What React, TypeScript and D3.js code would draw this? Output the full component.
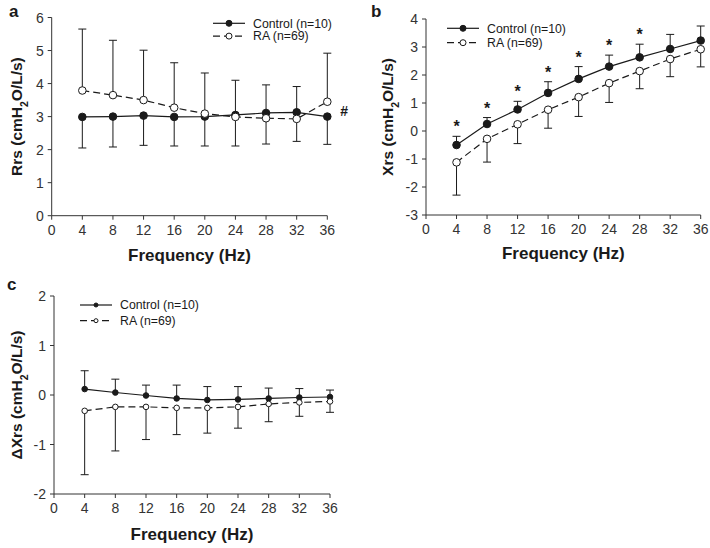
import React from "react";
import * as d3 from "d3";

const freqs = [4, 8, 12, 16, 20, 24, 28, 32, 36];
const xTicks = [0, 4, 8, 12, 16, 20, 24, 28, 32, 36];

// Panel a: Rrs
const rrsControl = [2.99, 3.0, 3.03, 2.99, 3.0, 3.05, 3.11, 3.13, 3.0];
const rrsControlErr = [2.05, 2.08, 2.13, 2.11, 2.11, 2.11, 2.17, 2.25, 2.16];
const rrsRA = [3.79, 3.65, 3.5, 3.27, 3.09, 2.99, 2.95, 2.93, 3.45];
const rrsRAErr = [5.65, 5.31, 5.01, 4.63, 4.32, 4.1, 3.96, 3.91, 4.92];
const rrsTicks = [0, 1, 2, 3, 4, 5, 6];

// Panel b: Xrs
const xrsControl = [-0.5, 0.25, 0.77, 1.36, 1.86, 2.3, 2.63, 2.93, 3.23];
const xrsControlErr = [-0.19, 0.48, 1.06, 1.76, 2.3, 2.71, 3.1, 3.45, 3.75];
const xrsRA = [-1.12, -0.28, 0.24, 0.76, 1.21, 1.71, 2.14, 2.57, 2.92];
const xrsRAErr = [-2.29, -1.11, -0.45, 0.1, 0.52, 1.02, 1.51, 1.94, 2.29];
const xrsTicks = [-3, -2, -1, 0, 1, 2, 3, 4];
const xrsSignificant = [true, true, true, true, true, true, true, false, false];

// Panel c: ΔXrs
const dxrsControl = [0.12, 0.05, -0.01, -0.07, -0.1, -0.09, -0.07, -0.05, -0.04];
const dxrsControlErr = [0.49, 0.32, 0.2, 0.2, 0.17, 0.17, 0.14, 0.13, 0.1];
const dxrsRA = [-0.32, -0.24, -0.24, -0.26, -0.26, -0.24, -0.18, -0.15, -0.13];
const dxrsRAErr = [-1.61, -1.13, -0.9, -0.8, -0.77, -0.67, -0.54, -0.43, -0.35];
const dxrsTicks = [-2, -1, 0, 1, 2];

const legendLabels = ["Control (n=10)", "RA (n=69)"];

const FONT = "'Liberation Sans', Arial, Helvetica, sans-serif";
const INK = "#1a1a1a";
const AXIS = "#333";

type PanelProps = {
  letter: string;
  letterX: number;
  letterY: number;
  x0: number;
  x1: number;
  yTop: number;
  yBot: number;
  domain: [number, number];
  yTicks: number[];
  ctrl: number[];
  ctrlErr: number[];
  ra: number[];
  raErr: number[];
  ylabelMain: React.ReactNode;
  ylabelX: number;
  xlabelY: number;
  legendX: number;
  legendY: number;
  legendGap: number;
  r: number;
  stars?: boolean[];
  hash?: boolean;
};

function Panel(p: PanelProps) {
  const x = d3.scaleLinear().domain([0, 36]).range([p.x0, p.x1]);
  const y = d3.scaleLinear().domain(p.domain).range([p.yBot, p.yTop]);
  const line = d3
    .line<number>()
    .x((_, i) => x(freqs[i]))
    .y((d) => y(d));
  const cap = 4;
  const yMid = (p.yTop + p.yBot) / 2;
  const xMid = (p.x0 + p.x1) / 2;
  return (
    <g>
      <text x={p.letterX} y={p.letterY} fontFamily={FONT} fontWeight="bold" fontSize={17} fill={INK}>
        {p.letter}
      </text>
      {/* axes */}
      <line x1={p.x0} x2={p.x0} y1={p.yTop} y2={p.yBot} stroke={AXIS} strokeWidth={1} />
      <line x1={p.x0} x2={p.x1} y1={p.yBot} y2={p.yBot} stroke={AXIS} strokeWidth={1} />
      {p.yTicks.map((t) => (
        <g key={"y" + t}>
          <line x1={p.x0 - 4} x2={p.x0} y1={y(t)} y2={y(t)} stroke={AXIS} />
          <text x={p.x0 - 8} y={y(t) + 5} textAnchor="end" fontFamily={FONT} fontSize={14} fill={AXIS}>
            {t}
          </text>
        </g>
      ))}
      {xTicks.map((t) => (
        <g key={"x" + t}>
          <line x1={x(t)} x2={x(t)} y1={p.yBot} y2={p.yBot + 4} stroke={AXIS} />
          <text x={x(t)} y={p.yBot + 19} textAnchor="middle" fontFamily={FONT} fontSize={14} fill={AXIS}>
            {t}
          </text>
        </g>
      ))}
      <text x={xMid} y={p.xlabelY} textAnchor="middle" fontFamily={FONT} fontWeight="bold" fontSize={17} fill={INK}>
        Frequency (Hz)
      </text>
      <text
        transform={`translate(${p.ylabelX},${yMid}) rotate(-90)`}
        textAnchor="middle"
        fontFamily={FONT}
        fontWeight="bold"
        fontSize={15.5}
        fill={INK}
      >
        {p.ylabelMain}
      </text>
      {/* error bars */}
      {freqs.map((f, i) => (
        <g key={"ec" + f} stroke={INK} strokeWidth={1}>
          <line x1={x(f)} x2={x(f)} y1={y(p.ctrl[i])} y2={y(p.ctrlErr[i])} />
          <line x1={x(f) - cap} x2={x(f) + cap} y1={y(p.ctrlErr[i])} y2={y(p.ctrlErr[i])} />
          <line x1={x(f)} x2={x(f)} y1={y(p.ra[i])} y2={y(p.raErr[i])} />
          <line x1={x(f) - cap} x2={x(f) + cap} y1={y(p.raErr[i])} y2={y(p.raErr[i])} />
        </g>
      ))}
      <path d={line(p.ctrl) || ""} fill="none" stroke={INK} strokeWidth={1.2} />
      <path d={line(p.ra) || ""} fill="none" stroke={INK} strokeWidth={1.2} strokeDasharray="7,4" />
      {freqs.map((f, i) => (
        <circle key={"mc" + f} cx={x(f)} cy={y(p.ctrl[i])} r={p.r} fill={INK} stroke={INK} strokeWidth={1} />
      ))}
      {freqs.map((f, i) => (
        <circle key={"mr" + f} cx={x(f)} cy={y(p.ra[i])} r={p.r} fill="#fff" stroke={INK} strokeWidth={1} />
      ))}
      {p.stars &&
        freqs.map((f, i) =>
          p.stars![i] ? (
            <text
              key={"s" + f}
              x={x(f)}
              y={y(p.ctrlErr[i]) - 4}
              textAnchor="middle"
              fontFamily={FONT}
              fontWeight="bold"
              fontSize={16}
              fill={INK}
            >
              *
            </text>
          ) : null
        )}
      {p.hash && (
        <text
          x={x(36) + 13}
          y={y(p.ctrl[8]) - 1}
          fontFamily={FONT}
          fontWeight="bold"
          fontSize={14}
          fill={INK}
        >
          #
        </text>
      )}
      {/* legend */}
      {legendLabels.map((lab, k) => {
        const ly = p.legendY + k * p.legendGap;
        return (
          <g key={lab}>
            <line
              x1={p.legendX}
              x2={p.legendX + 32}
              y1={ly}
              y2={ly}
              stroke={INK}
              strokeWidth={1.2}
              strokeDasharray={k === 1 ? "7,4" : undefined}
            />
            <circle
              cx={p.legendX + 16}
              cy={ly}
              r={p.r - 0.8}
              fill={k === 0 ? INK : "#fff"}
              stroke={INK}
              strokeWidth={1}
            />
            <text x={p.legendX + 40} y={ly + 4.3} fontFamily={FONT} fontSize={12.3} fill={INK}>
              {lab}
            </text>
          </g>
        );
      })}
    </g>
  );
}

const unitLabel = (prefix: string) => (
  <>
    {prefix} (cmH
    <tspan baselineShift="sub" fontSize={10.5}>
      2
    </tspan>
    O/L/s)
  </>
);

export default function App() {
  return (
    <svg width={710} height={548} style={{ display: "block", position: "absolute", left: 0, top: 0 }}>
      <rect width={710} height={548} fill="#fff" />
      <Panel
        letter="a"
        letterX={9}
        letterY={17}
        x0={51.7}
        x1={327.3}
        yTop={17.5}
        yBot={215.7}
        domain={[0, 6]}
        yTicks={rrsTicks}
        ctrl={rrsControl}
        ctrlErr={rrsControlErr}
        ra={rrsRA}
        raErr={rrsRAErr}
        ylabelMain={unitLabel("Rrs")}
        ylabelX={22}
        xlabelY={261}
        legendX={213}
        legendY={23.3}
        legendGap={12.8}
        r={3.8}
        hash
      />
      <Panel
        letter="b"
        letterX={371}
        letterY={17}
        x0={426}
        x1={700.7}
        yTop={19}
        yBot={215}
        domain={[-3, 4]}
        yTicks={xrsTicks}
        ctrl={xrsControl}
        ctrlErr={xrsControlErr}
        ra={xrsRA}
        raErr={xrsRAErr}
        ylabelMain={unitLabel("Xrs")}
        ylabelX={393}
        xlabelY={259}
        legendX={447}
        legendY={28.3}
        legendGap={14.4}
        r={3.8}
        stars={xrsSignificant}
      />
      <Panel
        letter="c"
        letterX={7}
        letterY={290}
        x0={54}
        x1={330}
        yTop={296}
        yBot={494}
        domain={[-2, 2]}
        yTicks={dxrsTicks}
        ctrl={dxrsControl}
        ctrlErr={dxrsControlErr}
        ra={dxrsRA}
        raErr={dxrsRAErr}
        ylabelMain={unitLabel("ΔXrs")}
        ylabelX={22}
        xlabelY={540}
        legendX={80}
        legendY={305}
        legendGap={15.7}
        r={2.8}
      />
    </svg>
  );
}
